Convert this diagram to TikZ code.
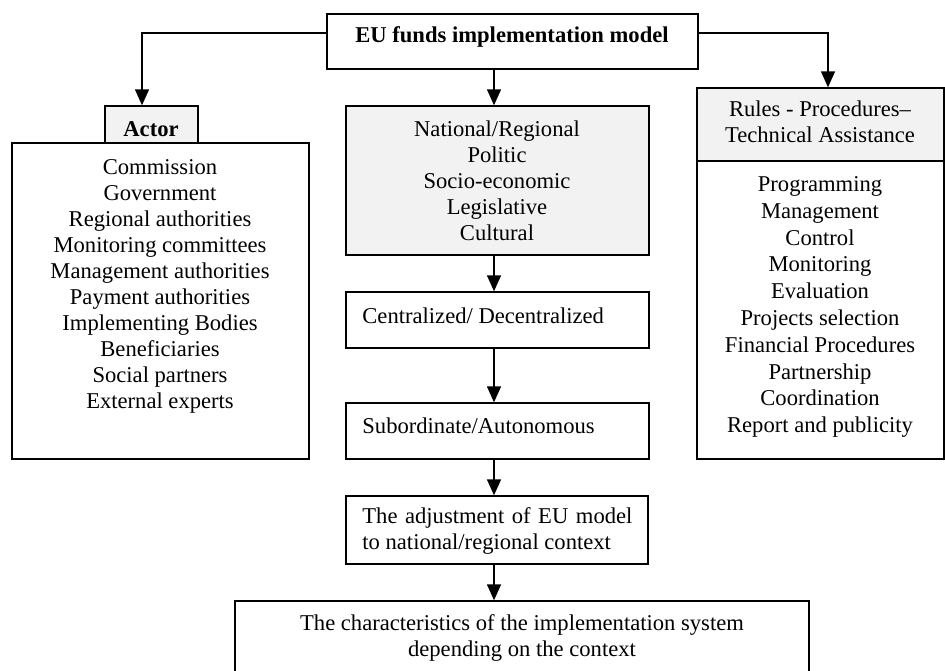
\documentclass[tikz,border=0pt]{standalone}
\usepackage{fontspec}
\setmainfont{Liberation Serif}
\usetikzlibrary{arrows.meta}
\definecolor{boxgray}{HTML}{F2F2F2}
\begin{document}
\begin{tikzpicture}[x=0.5pt,y=-0.5pt,
  font=\fontsize{11.3}{13}\selectfont,
  box/.style={draw, line width=0.7pt, rectangle, inner sep=0pt},
  graybox/.style={box, fill=boxgray},
  txt/.style={inner sep=0pt, align=center},
  arr/.style={line width=0.7pt, -{Triangle[width=7pt,length=8pt]}}]
\useasboundingbox (0,0) rectangle (945,670);
\clip (0,0) rectangle (945,670);
\fill[white] (0,0) rectangle (945,670);

% boxes
\node[box, minimum width=185.5pt, minimum height=27.5pt] (top) at (512.5,41.5) {};
\node[graybox, minimum width=46.5pt, minimum height=18.5pt] (acthead) at (151.5,124.5) {};
\node[box, minimum width=148.5pt, minimum height=158pt] (actbody) at (160.5,301) {};
\node[graybox, minimum width=151.5pt, minimum height=74.5pt] (midbox) at (497.5,180.5) {};
\node[box, minimum width=151.5pt, minimum height=28pt] (cent) at (497.5,320) {};
\node[box, minimum width=151.5pt, minimum height=28pt] (sub) at (497.5,431) {};
\node[box, minimum width=151pt, minimum height=34pt] (adj) at (497,530) {};
\node[box, minimum width=287pt, minimum height=49.5pt] (bot) at (522,650.5) {};
\node[graybox, minimum width=123.5pt, minimum height=36.5pt] (rhead) at (820.5,124.5) {};
\node[box, minimum width=123.5pt, minimum height=149pt] (rbody) at (820.5,310) {};

% texts
\node[txt, font=\fontsize{11.3}{13}\selectfont\bfseries] (toptxt) at (512,37) {EU funds implementation model};
\node[txt, font=\fontsize{11.3}{13}\selectfont\bfseries] (acttxt) at (151,129) {Actor};
\node[txt] (actlist) at (160,286) {Commission\\Government\\Regional authorities\\Monitoring committees\\Management authorities\\Payment authorities\\Implementing Bodies\\Beneficiaries\\Social partners\\External experts};
\node[txt] (midtxt) at (497,181) {National/Regional\\Politic\\Socio-economic\\Legislative\\Cultural};
\node[txt, anchor=west] (centtxt) at (362,316) {Centralized/ Decentralized};
\node[txt, anchor=west] (subtxt) at (362,426) {Subordinate/Autonomous};
\node[txt, anchor=west, align=left] (adjtxt) at (362,531) {\hbox to 135pt{The adjustment of EU model}\\to national/regional context};
\node[txt] (bottxt) at (522,638) {The characteristics of the implementation system\\depending on the context};
\node[txt] (rheadtxt) at (820,122) {Rules - Procedures–\\Technical Assistance};
\node[txt, font=\fontsize{11.3}{13.4}\selectfont] (rlist) at (820,307) {Programming\\Management\\Control\\Monitoring\\Evaluation\\Projects selection\\Financial Procedures\\Partnership\\Coordination\\Report and publicity};

% connectors
\coordinate (colx) at (494,0);
\coordinate (leftx) at (142,0);
\coordinate (rightx) at (828,0);
\draw[arr] ([yshift=4.25pt]top.west) -| (acthead.north -| leftx);
\draw[arr] ([yshift=4.25pt]top.east) -| (rhead.north -| rightx);
\draw[arr] (top.south -| colx) -- (midbox.north -| colx);
\draw[arr] (midbox.south -| colx) -- (cent.north -| colx);
\draw[arr] (cent.south -| colx) -- (sub.north -| colx);
\draw[arr] (sub.south -| colx) -- (adj.north -| colx);
\draw[arr] (adj.south -| colx) -- (bot.north -| colx);
\end{tikzpicture}
\end{document}
